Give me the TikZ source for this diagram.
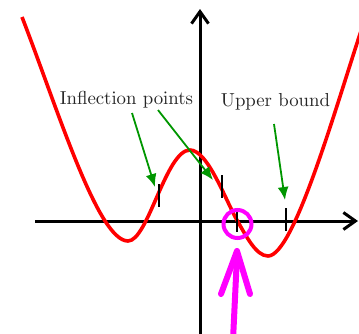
\documentclass[tikz,border=0pt]{standalone}
\usetikzlibrary{arrows.meta}
\definecolor{grn}{RGB}{0,150,0}
\definecolor{mgt}{RGB}{255,0,255}
\font\lblfont=cmr10 at 18.8pt
\begin{document}
\begin{tikzpicture}[x=1pt,y=-1pt,
  axis/.style={line width=3pt,-{Straight Barb[length=12pt,width=17pt,line width=3pt]}},
  curve/.style={red,line width=3.6pt},
  tick/.style={line width=1.2pt},
  garrow/.style={grn,line width=1.8pt,-{Latex[length=13pt,width=11pt]}},
  lbl/.style={inner sep=0pt,anchor=base,text=black!85,font=\lblfont},
  mag/.style={mgt,line width=6pt,line cap=round,line join=round}]
\useasboundingbox (0,0) rectangle (359,333);
\begin{scope}
\clip (0,0) rectangle (359,333);
% axes
\coordinate (xl) at (35,221);
\coordinate (xr) at (358,221);
\coordinate (yb) at (200,340);
\coordinate (yt) at (200,9);
\draw[axis] (xl) -- (xr);
\draw[axis] (yb) -- (yt);
% curve
\coordinate (c0) at (22,17);
\coordinate (c1) at (128,241);
\coordinate (c2) at (190,150);
\coordinate (cr) at (238,222);
\coordinate (c3) at (268,256);
\coordinate (c4) at (362,28);
\draw[curve] (c0) .. controls (58,110) and (98,241) .. (c1)
  .. controls (148,241) and (166,150) .. (c2)
  .. controls (208,150) and (226,201.6) .. (cr)
  .. controls (246,235.6) and (256,256) .. (c3)
  .. controls (294,256) and (336,106) .. (c4);
% ticks
\draw[tick] (159,184) -- (159,207);
\draw[tick] (222,175) -- (222,198);
\draw[tick] (237,210) -- (237,232);
\draw[tick] (286,208) -- (286,231);
% labels
\node[lbl] (inf) at (126.5,104) {Inflection points};
\node[lbl] (ub) at (275.5,106) {Upper bound};
% green arrows
\coordinate (g1s) at (132,113); \coordinate (g1e) at (155,187);
\coordinate (g2s) at (158,110); \coordinate (g2e) at (213,180);
\coordinate (g3s) at (274,124); \coordinate (g3e) at (285,200);
\draw[garrow] (g1s) -- (g1e);
\draw[garrow] (g2s) -- (g2e);
\draw[garrow] (g3s) -- (g3e);
% magenta circle
\node[draw=mgt,line width=4pt,circle,minimum size=28pt,inner sep=0pt] (circ) at (237.5,224) {};
% magenta arrow
\coordinate (mb) at (233,340);
\coordinate (mt) at (237,256);
\coordinate (ml) at (221,294);
\coordinate (mr) at (250,294);
\coordinate (mtip) at (237,251);
\draw[mag] (mb) -- (mt);
\draw[mag] (ml) -- (mtip) -- (mr);
\end{scope}
\end{tikzpicture}
\end{document}
